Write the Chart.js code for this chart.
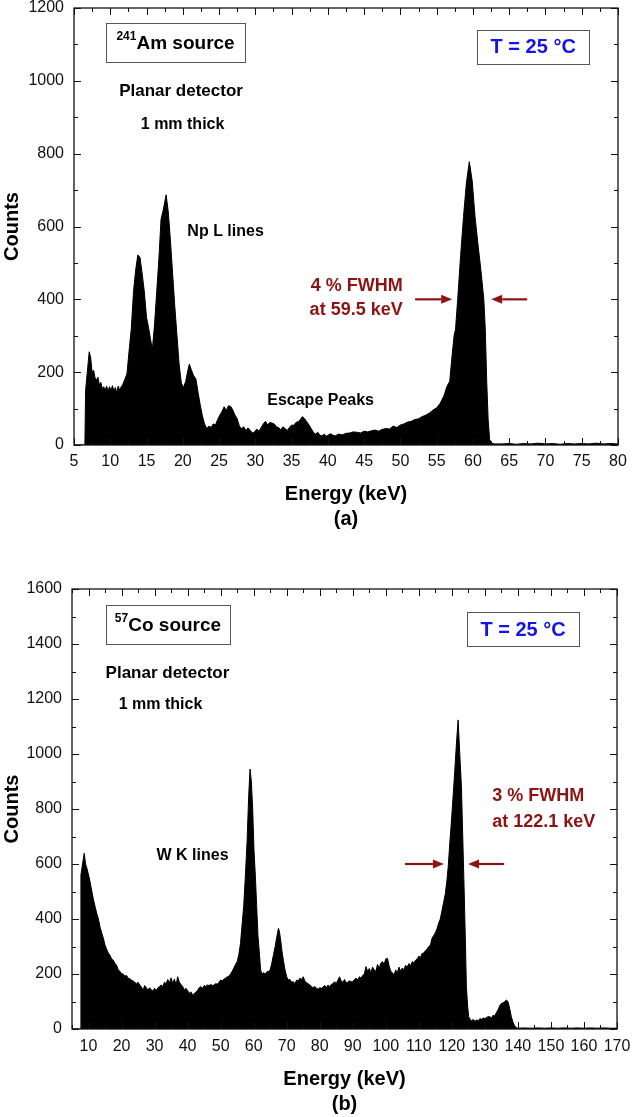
<!DOCTYPE html>
<html><head><meta charset="utf-8">
<script src="https://cdn.jsdelivr.net/npm/chart.js@4.4.1/dist/chart.umd.min.js"></script>
<style>
html,body{margin:0;padding:0;background:#fff;}
#wrap{position:relative;width:632px;height:1117px;overflow:hidden;background:#fff;}
#ca{position:absolute;left:0;top:0;width:632px;height:532px;}
#cb{position:absolute;left:0;top:536px;width:632px;height:581px;}
</style></head><body>
<div id="wrap"><canvas id="ca" width="632" height="532"></canvas><canvas id="cb" width="632" height="581"></canvas></div>
<script>
// ---------- (a) 241Am spectrum ----------
const energyA = [5.0,6.5,6.6,6.9,7.1,7.3,7.5,7.7,7.9,8.1,8.3,8.5,8.7,8.9,9.1,9.3,9.5,9.7,9.9,10.1,10.3,10.5,10.7,10.9,11.1,11.3,11.5,11.7,12.0,12.3,12.6,12.9,13.2,13.5,13.8,14.1,14.4,14.7,15.0,15.3,15.6,15.8,16.1,16.4,16.7,17.0,17.3,17.7,18.0,18.3,18.6,18.9,19.2,19.5,19.8,20.1,20.4,20.7,20.9,21.2,21.5,21.8,22.1,22.4,22.7,23.0,23.3,23.6,23.9,24.2,24.5,24.8,25.1,25.4,25.7,26.0,26.3,26.6,26.9,27.2,27.5,27.8,28.1,28.4,28.7,29.0,29.3,29.6,29.9,30.2,30.5,30.8,31.1,31.4,31.7,32.0,32.3,32.6,32.9,33.2,33.5,33.8,34.1,34.4,34.7,35.0,35.3,35.6,35.9,36.2,36.5,36.8,37.1,37.4,37.7,38.0,38.3,38.6,38.9,39.2,39.5,39.8,40.1,40.4,40.7,41.0,41.5,42.0,42.5,43.0,43.5,44.0,44.5,45.0,45.5,46.0,46.5,47.0,47.5,48.0,48.5,49.0,49.5,50.0,50.5,51.0,51.5,52.0,52.5,53.0,53.5,54.0,54.5,55.0,55.5,56.0,56.4,56.8,57.1,57.4,57.6,57.9,58.3,58.7,59.1,59.5,59.9,60.3,60.7,61.1,61.5,61.7,61.9,62.1,62.3,62.6,63,64,65,66,67,68,69,70,71,72,73,74,75,76,77,78,79,80];
const countsA = [0,0,150,215,256,240,200,205,185,178,186,165,172,155,160,150,162,148,160,150,163,148,158,143,162,150,160,165,180,195,260,320,420,480,522,515,470,420,350,320,285,262,330,420,510,620,645,687,640,560,470,380,300,220,170,158,175,205,222,205,190,182,145,110,80,58,45,52,48,58,55,70,82,92,105,95,108,106,96,82,72,52,45,50,40,47,40,33,36,44,38,48,58,65,55,62,60,58,50,48,42,50,45,40,48,55,54,62,64,70,78,72,64,55,45,35,30,35,27,25,30,24,28,31,27,25,30,28,32,33,36,35,33,38,36,39,41,38,43,45,44,52,48,55,58,63,65,70,72,78,82,88,96,102,115,135,160,175,240,300,318,400,520,627,720,778,725,625,550,480,400,320,175,70,15,5,3,3,4,2,4,3,5,3,4,2,4,3,4,3,5,3,4,3];
const xTicksA = [5,10,15,20,25,30,35,40,45,50,55,60,65,70,75,80];
const yTicksA = [0,200,400,600,800,1000,1200];

// ---------- (b) 57Co spectrum ----------
const energyB = [5,7.6,7.7,8.2,8.7,9.1,9.5,9.9,10.3,10.7,11.1,11.5,12.0,12.5,13.0,13.5,14.0,14.5,15.0,15.5,16.0,16.5,17.0,17.5,18.0,18.5,19.0,19.5,20.0,20.5,21,21.5,22,22.5,23,23.5,24,24.5,25,25.5,26,26.5,27,27.5,28,28.5,29,29.5,30,30.5,31,31.5,32,32.5,33,33.5,34,34.5,35,35.5,36,36.5,37,37.5,38,38.5,39,39.5,40,40.5,41,41.5,42,42.5,43,43.5,44,44.5,45,45.5,46,46.5,47,47.5,48,48.5,49,49.5,50,50.5,51,51.5,52,52.5,53,53.5,54,54.5,55,55.5,56,56.5,57,57.5,58,58.5,58.9,59.3,59.7,60.1,60.5,60.9,61.3,61.7,62.1,62.5,63,63.5,64,64.5,65,65.5,66,66.5,67,67.5,67.8,68.2,68.6,69,69.5,70,70.5,71,71.5,72,72.5,73,73.5,74,74.5,75,75.5,76,76.5,77,77.5,78,78.5,79,79.5,80,80.5,81,81.5,82,82.5,83,83.5,84,84.5,85,85.5,86,86.5,87,87.5,88,88.5,89,89.5,90,90.5,91,91.5,92,92.5,93,93.5,94,94.5,95,95.5,96,96.5,97,97.5,98,98.5,99,99.5,100,100.5,101,101.5,102,102.5,103,103.5,104,104.5,105,105.5,106,106.5,107,107.5,108,108.5,109,109.5,110,110.5,111,111.5,112,112.5,113,113.5,114,114.5,115,115.5,116,116.5,117,117.5,118,118.5,118.9,119.4,119.9,120.4,120.9,121.4,121.9,122.4,122.9,123.3,123.7,124.1,124.4,124.8,125.1,125.5,126,126.5,127,127.5,128,128.5,129,129.5,130,130.5,131,131.5,132,132.5,133,133.5,134,134.5,135,135.5,136,136.5,137,137.5,138,138.5,139,139.5,140,142,144,146,148,150,152,154,156,158,160,162,164,166,168,170];
const countsB = [0,0,560,600,639,600,585,566,545,520,495,470,445,420,400,370,349,330,305,290,276,268,255,250,239,232,215,210,202,200,192,195,185,183,178,175,170,165,170,160,154,140,158,150,142,150,142,138,148,140,150,155,160,155,170,165,180,168,186,165,182,160,190,170,162,155,142,148,140,130,135,124,128,135,140,150,154,148,158,155,160,158,162,158,160,165,163,170,178,175,182,185,190,192,200,210,222,235,245,270,310,380,450,560,680,850,945,900,800,650,560,450,340,280,215,200,205,200,208,210,215,240,270,300,335,366,355,320,280,250,215,190,178,180,170,172,165,178,175,185,180,190,175,168,165,160,155,150,155,148,145,150,148,152,158,150,160,154,162,165,172,165,178,190,175,170,180,168,170,175,172,172,180,185,178,190,185,195,200,227,210,220,205,225,215,210,235,220,240,245,235,255,257,230,210,205,196,215,205,225,210,222,215,232,225,238,230,245,240,250,255,265,260,275,276,285,290,300,305,330,340,350,365,385,400,430,460,490,540,590,680,760,850,942,1040,1124,1000,881,700,517,320,154,80,45,35,30,35,28,33,30,38,35,40,38,42,45,45,40,50,48,60,70,85,93,95,100,105,100,75,45,25,12,5,3,4,3,4,3,4,3,4,3,4,3,4,3,4,3,3];
const xTicksB = [10,20,30,40,50,60,70,80,90,100,110,120,130,140,150,160,170];
const yTicksB = [0,200,400,600,800,1000,1200,1400,1600];

const FAM = '"Liberation Sans", Arial, Helvetica, sans-serif';
const RED = '#8c1414';
const BLUE = '#1414e6';
Chart.defaults.font.family = FAM;
Chart.defaults.color = '#111';

const annA = [
  {type:'box', x1:9.41, x2:28.59, y1:1159, y2:1052, sup:'241', text:'Am source', size:19, color:'#000'},
  {type:'box', x1:60.59, x2:76.03, y1:1140, y2:1047, text:'T = 25 °C', size:20, color:BLUE},
  {type:'text', x:19.76, y:972, text:'Planar detector', size:17, color:'#000'},
  {type:'text', x:19.97, y:879, text:'1 mm thick', size:16, color:'#000'},
  {type:'text', x:25.9, y:585, text:'Np L lines', size:16, color:'#000'},
  {type:'text', x:43.97, y:437, text:'4 % FWHM', size:18, color:RED},
  {type:'text', x:43.9, y:371, text:'at 59.5 keV', size:18, color:RED},
  {type:'text', x:39.0, y:121, text:'Escape Peaks', size:16, color:'#000'},
  {type:'arrow', x1:52.03, x2:57.14, y:400, color:RED},
  {type:'arrow', x1:67.48, x2:62.52, y:400, color:RED}
];
const annB = [
  {type:'box', x1:15.29, x2:52.83, y1:1542, y2:1400, sup:'57', text:'Co source', size:19, color:'#000'},
  {type:'box', x1:124.6, x2:158.5, y1:1516, y2:1393, text:'T = 25 °C', size:20, color:BLUE},
  {type:'text', x:33.9, y:1295, text:'Planar detector', size:17, color:'#000'},
  {type:'text', x:31.8, y:1178, text:'1 mm thick', size:16, color:'#000'},
  {type:'text', x:41.5, y:629, text:'W K lines', size:16, color:'#000'},
  {type:'text', x:132.2, y:847, text:'3 % FWHM', size:18, color:RED, align:'left'},
  {type:'text', x:132.2, y:753, text:'at 122.1 keV', size:18, color:RED, align:'left'},
  {type:'arrow', x1:105.8, x2:117.6, y:600, color:RED},
  {type:'arrow', x1:135.8, x2:124.9, y:600, color:RED}
];

const framePlugin = {
  id: 'frameTicks',
  afterDatasetsDraw(chart, args, opts) {
    const {ctx, chartArea: a, scales: {x, y}} = chart;
    ctx.save();
    ctx.strokeStyle = '#111';
    ctx.lineWidth = 1;
    const MAJ = 7, MIN = 4;
    const xMaj = x.ticks.map(t => t.value), yMaj = y.ticks.map(t => t.value);
    ctx.beginPath();
    for (let v = x.min; v <= x.max + 1e-9; v += opts.xMinor) {
      const len = xMaj.some(m => Math.abs(m - v) < 1e-6) ? MAJ : MIN;
      const px = Math.round(x.getPixelForValue(v)) + 0.5;
      ctx.moveTo(px, a.top); ctx.lineTo(px, a.top + len);
      ctx.moveTo(px, a.bottom); ctx.lineTo(px, a.bottom - len);
    }
    for (let v = y.min; v <= y.max + 1e-9; v += opts.yMinor) {
      const len = yMaj.some(m => Math.abs(m - v) < 1e-6) ? MAJ : MIN;
      const py = Math.round(y.getPixelForValue(v)) + 0.5;
      ctx.moveTo(a.left, py); ctx.lineTo(a.left + len, py);
      ctx.moveTo(a.right, py); ctx.lineTo(a.right - len, py);
    }
    ctx.stroke();
    ctx.lineWidth = 1.3;
    ctx.strokeRect(a.left, a.top, a.right - a.left, a.bottom - a.top);
    ctx.restore();
  }
};

const annoPlugin = {
  id: 'annos',
  afterDraw(chart, args, opts) {
    const {ctx, scales: {x, y}} = chart;
    ctx.save();
    (opts.items || []).forEach(a => {
      if (a.type === 'box') {
        const x1 = x.getPixelForValue(a.x1), x2 = x.getPixelForValue(a.x2);
        const y1 = y.getPixelForValue(a.y1), y2 = y.getPixelForValue(a.y2);
        ctx.strokeStyle = '#555'; ctx.lineWidth = 1;
        ctx.strokeRect(Math.round(x1) + 0.5, Math.round(y1) + 0.5, Math.round(x2 - x1), Math.round(y2 - y1));
        const cx = (x1 + x2) / 2, cy = (y1 + y2) / 2 + 1;
        ctx.fillStyle = a.color; ctx.textBaseline = 'middle';
        ctx.font = `bold ${a.size}px ${FAM}`;
        const wMain = ctx.measureText(a.text).width;
        let wSup = 0;
        const supSize = Math.round(a.size * 0.62);
        if (a.sup) { ctx.font = `bold ${supSize}px ${FAM}`; wSup = ctx.measureText(a.sup).width; }
        let sx = cx - (wMain + wSup) / 2;
        ctx.textAlign = 'left';
        if (a.sup) { ctx.fillText(a.sup, sx, cy - a.size * 0.36); }
        ctx.font = `bold ${a.size}px ${FAM}`;
        ctx.fillText(a.text, sx + wSup, cy);
      } else if (a.type === 'text') {
        ctx.fillStyle = a.color; ctx.textBaseline = 'middle';
        ctx.textAlign = a.align || 'center';
        ctx.font = `bold ${a.size}px ${FAM}`;
        ctx.fillText(a.text, x.getPixelForValue(a.x), y.getPixelForValue(a.y));
      } else if (a.type === 'arrow') {
        const x1 = x.getPixelForValue(a.x1), x2 = x.getPixelForValue(a.x2), py = y.getPixelForValue(a.y);
        const dir = Math.sign(x2 - x1), hl = 11, hw = 4.5;
        ctx.strokeStyle = a.color; ctx.fillStyle = a.color; ctx.lineWidth = 2.2;
        ctx.beginPath(); ctx.moveTo(x1, py); ctx.lineTo(x2 - dir * hl, py); ctx.stroke();
        ctx.beginPath(); ctx.moveTo(x2, py); ctx.lineTo(x2 - dir * hl, py - hw); ctx.lineTo(x2 - dir * hl, py + hw); ctx.closePath(); ctx.fill();
      }
    });
    ctx.restore();
  }
};

function makeChart(id, ex, cy, xT, yT, xMin, xMax, yMax, pad, yW, xH, xTickGap, xMinor, sub, ann) {
  const pts = ex.map((e, i) => ({x: e, y: cy[i]}));
  const hiddenGrid = gap => ({display: true, drawOnChartArea: false, drawTicks: true, tickLength: gap, color: 'rgba(0,0,0,0)'});
  return new Chart(document.getElementById(id), {
    type: 'line',
    data: {datasets: [{data: pts, borderColor: '#000', backgroundColor: '#000', borderWidth: 1,
      pointRadius: 0, fill: 'origin', tension: 0}]},
    options: {
      responsive: false, animation: false, events: [],
      layout: {padding: pad},
      plugins: {legend: {display: false}, tooltip: {enabled: false},
        frameTicks: {xMinor: xMinor, yMinor: 100}, annos: {items: ann}},
      scales: {
        x: {type: 'linear', min: xMin, max: xMax,
          afterBuildTicks: s => { s.ticks = xT.map(v => ({value: v})); },
          afterFit: s => { s.height = xH; },
          grid: hiddenGrid(xTickGap), border: {display: false},
          ticks: {font: {size: 16, lineHeight: 1}, color: '#111', padding: 0, maxRotation: 0, autoSkip: false,
            callback: v => String(v)},
          title: {display: true, text: ['Energy (keV)', sub], color: '#000', padding: 0,
            font: {size: 20, weight: 'bold', lineHeight: 1.25}}},
        y: {type: 'linear', min: 0, max: yMax,
          afterBuildTicks: s => { s.ticks = yT.map(v => ({value: v})); },
          afterFit: s => { s.width = yW; },
          grid: hiddenGrid(10), border: {display: false},
          ticks: {font: {size: 16, lineHeight: 1}, color: '#111', padding: 0, autoSkip: false,
            callback: v => String(v)},
          title: {display: true, text: 'Counts', color: '#000', padding: 0,
            font: {size: 20, weight: 'bold', lineHeight: 1.25}}}
      }
    },
    plugins: [framePlugin, annoPlugin]
  });
}

makeChart('ca', energyA, countsA, xTicksA, yTicksA, 5, 80, 1200, {left: 0, right: 14, top: 8, bottom: 0}, 74, 87, 9, 2.5, '(a)', annA);
makeChart('cb', energyB, countsB, xTicksB, yTicksB, 5, 170, 1600, {left: 0, right: 15, top: 53, bottom: 0}, 72, 88, 10, 5, '(b)', annB);
</script>
</body></html>
